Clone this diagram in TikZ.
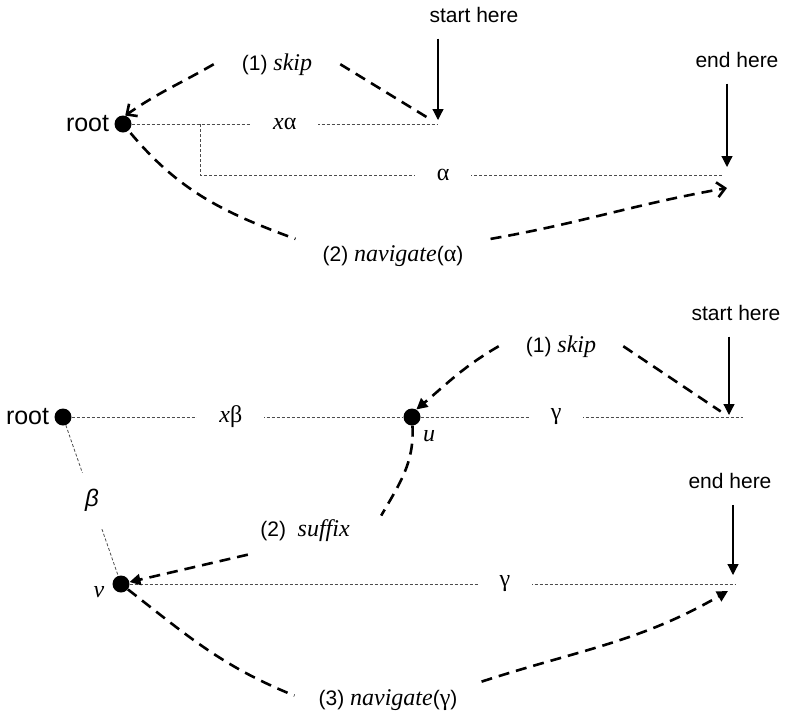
\documentclass[tikz,border=0pt]{standalone}
\usepackage{fontspec}
\setmainfont{Liberation Sans}
\newfontfamily\tmsfont{Liberation Serif}
\usetikzlibrary{arrows.meta}
\newcommand{\tit}[1]{{\fontsize{24}{28}\selectfont\tmsfont\itshape #1}}
\newcommand{\tgr}[1]{{\fontsize{24}{28}\selectfont\tmsfont #1}}
\tikzset{
  blob/.style={circle,fill=black,inner sep=0pt,minimum size=17pt},
  rootlabel/.style={left,inner xsep=5pt,font=\fontsize{25}{30}\selectfont},
  guide/.style={draw=black!70,line width=0.8pt,dash pattern=on 3pt off 2pt},
  gaplabel/.style={fill=white,inner xsep=22pt,inner ysep=2pt},
  hop/.style={line width=2.6pt,dash pattern=on 11pt off 7pt},
  pointer/.style={line width=1.2pt,-{Triangle[length=11pt,width=11pt]},shorten <=13pt},
  opentip/.style={-{Straight Barb[length=8pt,width=15pt]}},
  filltip/.style={-{Triangle[length=11pt,width=11pt]}}
}
\begin{document}
\begin{tikzpicture}[x=1pt,y=1pt,font=\fontsize{21}{25}\selectfont]
  \useasboundingbox (0,0) rectangle (789,-716);
  % upper case
  \node[blob] (root1) at (123,-124) {};
  \node[rootlabel] (rlab1) at (root1.west) {root};
  \coordinate (start1) at (438,-124);
  \coordinate (fork1) at (200,-124);
  \coordinate (bend1) at (200,-175);
  \coordinate (end1) at (727,-175);
  \node[anchor=base] (shere1) at (474,-22) {start here};
  \node[anchor=base] (ehere1) at (737,-67) {end here};
  \draw[guide] (root1) -- node[gaplabel,pos=0.5] {\tit{x}\tgr{α}} (start1);
  \draw[guide] (fork1) -- (bend1) -- node[gaplabel,pos=0.465] {\tgr{α}} ([xshift=-4pt]end1);
  \draw[pointer,shorten >=4pt] (shere1.south -| start1) -- (start1);
  \draw[pointer,shorten >=8pt] (ehere1.south -| end1) -- (end1);
  \node[anchor=base,inner xsep=28pt] (skip1) at (277,-70) {(1) \tit{skip}};
  \draw[hop,opentip] (skip1.west) to[out=210,in=35] (root1.75);
  \draw[hop,shorten >=12pt] (skip1.east) -- (start1);
  \node[anchor=base,inner xsep=27pt,inner ysep=6pt] (nav1) at (393,-261) {(2) \tit{navigate}(\tgr{α})};
  \draw[hop,shorten <=3pt] (root1) to[out=-50,in=160] (nav1.north west);
  \draw[hop,opentip] (nav1.north east) to[out=10,in=190] ([yshift=-13pt]end1);
  % lower case
  \node[blob] (root2) at (63,-417) {};
  \node[rootlabel] (rlab2) at (root2.west) {root};
  \node[blob] (u) at (412,-417) {};
  \node[blob] (v) at (121,-584) {};
  \node (ulab) at (429,-436) {\tit{u}};
  \node (vlab) at (99,-592) {\tit{v}};
  \coordinate (start2) at (729,-417);
  \coordinate (end2) at (733,-584);
  \node[anchor=base] (shere2) at (736,-320) {start here};
  \node[anchor=base] (ehere2) at (730,-488) {end here};
  \draw[guide] (root2) -- node[gaplabel,pos=0.48] {\tit{x}\tgr{β}} (u);
  \draw[guide] (u) -- node[gaplabel,pos=0.42] {\tgr{γ}} ([xshift=14pt]start2);
  \draw[guide] (root2) -- node[gaplabel,inner xsep=4pt,inner ysep=16pt] {\fontsize{24}{28}\selectfont\textit{β}} (v);
  \draw[guide] (v) -- node[gaplabel,pos=0.62] {\tgr{γ}} ([xshift=2pt]end2);
  \draw[pointer,shorten >=2pt] (shere2.south -| start2) -- (start2);
  \draw[pointer,shorten >=9pt] (ehere2.south -| end2) -- (end2);
  \node[anchor=base,inner xsep=27pt] (skip2) at (561,-352) {(1) \tit{skip}};
  \draw[hop,filltip] (skip2.west) to[out=210,in=40] (u.60);
  \draw[hop,shorten >=10pt] (skip2.east) -- (start2);
  \node[anchor=base] (suf) at (305,-536) {(2)\ \ \tit{suffix}};
  \draw[hop] (u) to[out=-87,in=60] ([xshift=28pt]suf.north east);
  \draw[hop,filltip] ([xshift=-9pt,yshift=-10pt]suf.south west) -- (v);
  \node[anchor=base,inner xsep=24pt,inner ysep=6pt] (nav3) at (388,-705) {(3) \tit{navigate}(\tgr{γ})};
  \draw[hop] (v) to[out=-38,in=158] ([yshift=4pt]nav3.west);
  \draw[hop,filltip] ([yshift=18pt]nav3.east) to[out=18,in=210] ([shift={(-5pt,-7pt)}]end2);
\end{tikzpicture}
\end{document}
